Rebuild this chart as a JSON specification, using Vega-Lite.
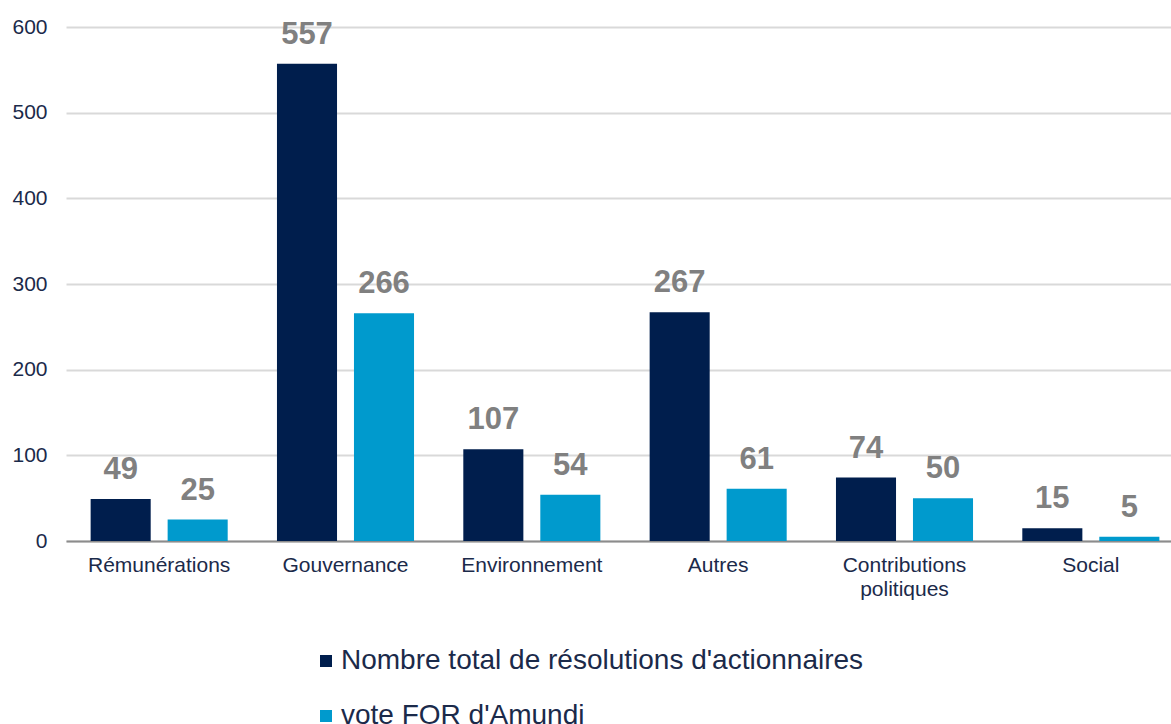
{
  "$schema": "https://vega.github.io/schema/vega-lite/v6.json",
  "autosize": {"type": "none"},
  "padding": {"left": 66, "top": 27, "right": 0, "bottom": 183},
  "width": 1105,
  "height": 514,
  "config": {
    "font": "Liberation Sans",
    "view": {"stroke": null}
  },
  "data": {
    "values": [
      {"cat": "Rémunérations", "serie": "Nombre total de résolutions d'actionnaires", "v": 49},
      {"cat": "Rémunérations", "serie": "vote FOR d'Amundi", "v": 25},
      {"cat": "Gouvernance", "serie": "Nombre total de résolutions d'actionnaires", "v": 557},
      {"cat": "Gouvernance", "serie": "vote FOR d'Amundi", "v": 266},
      {"cat": "Environnement", "serie": "Nombre total de résolutions d'actionnaires", "v": 107},
      {"cat": "Environnement", "serie": "vote FOR d'Amundi", "v": 54},
      {"cat": "Autres", "serie": "Nombre total de résolutions d'actionnaires", "v": 267},
      {"cat": "Autres", "serie": "vote FOR d'Amundi", "v": 61},
      {"cat": "Contributions politiques", "serie": "Nombre total de résolutions d'actionnaires", "v": 74},
      {"cat": "Contributions politiques", "serie": "vote FOR d'Amundi", "v": 50},
      {"cat": "Social", "serie": "Nombre total de résolutions d'actionnaires", "v": 15},
      {"cat": "Social", "serie": "vote FOR d'Amundi", "v": 5}
    ]
  },
  "encoding": {
    "x": {
      "field": "cat", "type": "nominal", "sort": null, "title": null,
      "scale": {"paddingInner": 0, "paddingOuter": 0, "range": [0, 1118]},
      "axis": {"labelAngle": 0, "domain": true, "domainColor": "#8c8c8c", "domainWidth": 2, "ticks": false, "labelPadding": 13,
               "labelFont": "Liberation Sans", "labelFontSize": 21, "labelColor": "#1b2a4a",
               "labelExpr": "split(datum.label, ' ')", "labelLineHeight": 24, "labelBaseline": "top"}
    },
    "xOffset": {"field": "serie", "type": "nominal", "scale": {"paddingInner": 0.22, "paddingOuter": 0.32}},
    "y": {
      "field": "v", "type": "quantitative", "title": null,
      "scale": {"domain": [0, 600]},
      "axis": {"values": [0, 100, 200, 300, 400, 500, 600], "domain": false, "ticks": false, "labelPadding": 19,
               "labelFont": "Liberation Sans", "labelFontSize": 21, "labelColor": "#1b2a4a",
               "gridColor": "#d9d9d9", "gridWidth": 2}
    }
  },
  "layer": [
    {
      "mark": {"type": "bar"},
      "encoding": {
        "color": {
          "field": "serie", "type": "nominal",
          "scale": {"range": ["#001e4d", "#009acd"]},
          "legend": {
            "title": null, "orient": "none", "direction": "vertical", "legendX": 246, "legendY": 620,
            "symbolType": "square", "symbolSize": 144, "labelFontSize": 28, "labelColor": "#1b2a4a",
            "labelFont": "Liberation Sans", "rowPadding": 27, "labelOffset": 1, "symbolStrokeWidth": 0, "labelLimit": 800
          }
        }
      }
    },
    {
      "mark": {"type": "text", "fontSize": 31, "fontWeight": "bold", "color": "#808080", "baseline": "alphabetic", "dy": -20},
      "encoding": {"text": {"field": "v", "type": "quantitative"}}
    }
  ]
}
